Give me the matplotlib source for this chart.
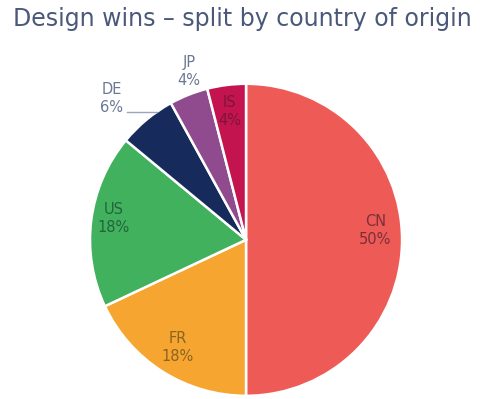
import numpy as np
import matplotlib
matplotlib.use("Agg")
import matplotlib.pyplot as plt

countries = ["CN", "FR", "US", "DE", "JP", "IS"]
shares = [50, 18, 18, 6, 4, 4]
colors = ["#ee5b56", "#f6a531", "#41b15e", "#172a5c", "#8f4b8e", "#c3144f"]
label_colors = ["#7a2e3c", "#8a6420", "#22653c", "#6b7894", "#6b7894", "#7d1438"]
label_radius = [0.83, 0.82, 0.86, 1.25, 1.14, 0.83]
label_shift = [4, 0, -2, 4, -3, 0]  # degrees off the wedge middle

fig = plt.figure(figsize=(4.81, 3.99), dpi=100)
fig.text(0.028, 0.953, "Design wins \u2013 split by country of origin",
         fontsize=17, color="#4a587a", ha="left", va="center")

ax = fig.add_axes([0.187, 0.008, 0.649, 0.782])
wedges, _ = ax.pie(shares, colors=colors, startangle=90, counterclock=False,
                   wedgeprops=dict(edgecolor="white", linewidth=1.8))
ax.set_xlim(-1, 1)
ax.set_ylim(-1, 1)
ax.set_aspect("equal")
ax.axis("off")

# labels sit at a per-slice radius along each wedge's mid angle
for w, name, val, r, s, c in zip(wedges, countries, shares, label_radius,
                                 label_shift, label_colors):
    ang = np.deg2rad((w.theta1 + w.theta2) / 2 + s)
    x, y = r * np.cos(ang), r * np.sin(ang)
    ax.text(x, y, f"{name}\n{val}%", ha="center", va="center", fontsize=10.5,
            color=c, linespacing=1.25, clip_on=False)

# leader line for the small DE slice
ax.plot([-0.76, -0.57], [0.82, 0.82], color="#9aa6bf", lw=1, clip_on=False)

fig.savefig("out.png", dpi=100)
